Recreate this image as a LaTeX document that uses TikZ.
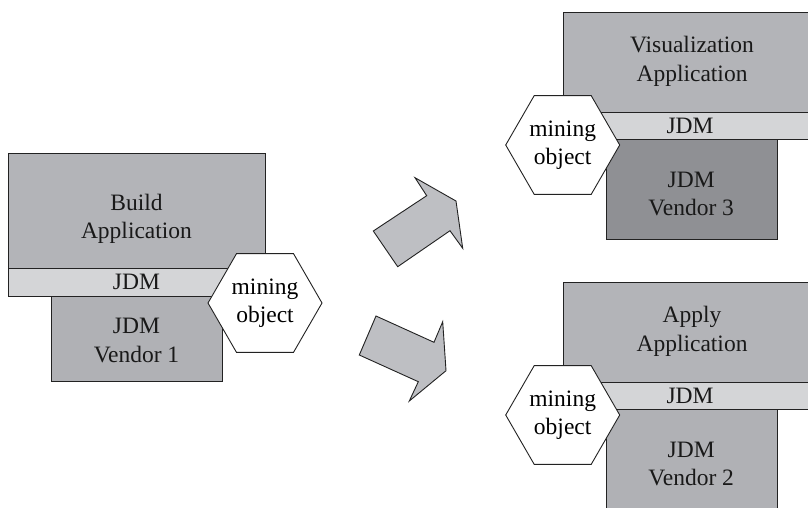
\documentclass[tikz,border=0pt]{standalone}
\usepackage{fontspec}
\newfontfamily\tnr{LiberationSerif}[Extension=.ttf, UprightFont=*-Regular]
\usetikzlibrary{shapes.geometric}
\definecolor{appfill}{RGB}{179,180,184}
\definecolor{barfill}{RGB}{212,213,215}
\definecolor{venfill}{RGB}{176,177,181}
\definecolor{vendark}{RGB}{143,144,148}
\definecolor{arrowfill}{RGB}{190,191,195}
\definecolor{linec}{RGB}{34,34,34}
\begin{document}
\begin{tikzpicture}[x=1pt,y=-1pt,
  box/.style={draw=linec, line width=0.9pt, anchor=north west, inner sep=0pt},
  lbl/.style={font=\tnr\fontsize{23.5}{28.5}\selectfont, align=center, inner sep=0pt, text=black!90},
  hexa/.style={regular polygon, regular polygon sides=6, minimum size=114pt, inner sep=0pt,
    draw=linec, fill=white, line width=0.9pt, font=\tnr\fontsize{23.5}{28.5}\selectfont, align=center},
  arrowshape/.style={draw=linec, fill=arrowfill, line width=0.9pt, line join=miter}]
\useasboundingbox (0,0) rectangle (808,507);
\clip (0,0) rectangle (808,507);
\fill[white] (0,0) rectangle (808,507);

% ---- left group: Build Application
\node[box, fill=appfill, minimum width=257pt, minimum height=115pt] (bapp) at (8,153) {};
\node[box, fill=barfill, minimum width=257pt, minimum height=28pt] (bbar) at (8,268) {};
\node[box, fill=venfill, minimum width=171pt, minimum height=85pt] (bven) at (51,296) {};
\node[lbl] (tbapp) at (136.5,219) {Build\\Application};
\node[lbl] (tbbar) at (136.5,282) {JDM};
\node[lbl] (tbven) at (136.5,340.5) {JDM\\Vendor 1};
\node[hexa] (bhex) at (265,303) {mining\\object};

% ---- top right group: Visualization Application
\node[box, fill=appfill, minimum width=257pt, minimum height=100pt] (vapp) at (563,11.7) {};
\node[box, fill=barfill, minimum width=257pt, minimum height=27.6pt] (vbar) at (563,111.7) {};
\node[box, fill=vendark, minimum width=171pt, minimum height=100pt] (vven) at (605.7,139.3) {};
\node[lbl] (tvapp) at (692,61.5) {Visualization\\Application};
\node[lbl] (tvbar) at (690,126) {JDM};
\node[lbl] (tvven) at (691.2,194) {JDM\\Vendor 3};
\node[hexa] (vhex) at (562.7,145) {mining\\object};

% ---- bottom right group: Apply Application
\node[box, fill=appfill, minimum width=257pt, minimum height=100pt] (aapp) at (563,281.7) {};
\node[box, fill=barfill, minimum width=257pt, minimum height=27.6pt] (abar) at (563,381.7) {};
\node[box, fill=venfill, minimum width=171pt, minimum height=130pt] (aven) at (605.7,409.3) {};
\node[lbl] (taapp) at (692,331.5) {Apply\\Application};
\node[lbl] (tabar) at (690,396) {JDM};
\node[lbl] (taven) at (691.2,464) {JDM\\Vendor 2};
\node[hexa] (ahex) at (562.7,415) {mining\\object};

% ---- arrows
\draw[arrowshape] (373.3,231) -- (426.7,195.7) -- (415,177.7) -- (456,201)
  -- (462.7,248.3) -- (450,230.7) -- (397.7,266.7) -- cycle;
\draw[arrowshape] (376,316) -- (434,342.3) -- (442.7,321.7) -- (446,370.7)
  -- (409.3,401) -- (418.3,381.7) -- (359.3,355) -- cycle;
\end{tikzpicture}
\end{document}
